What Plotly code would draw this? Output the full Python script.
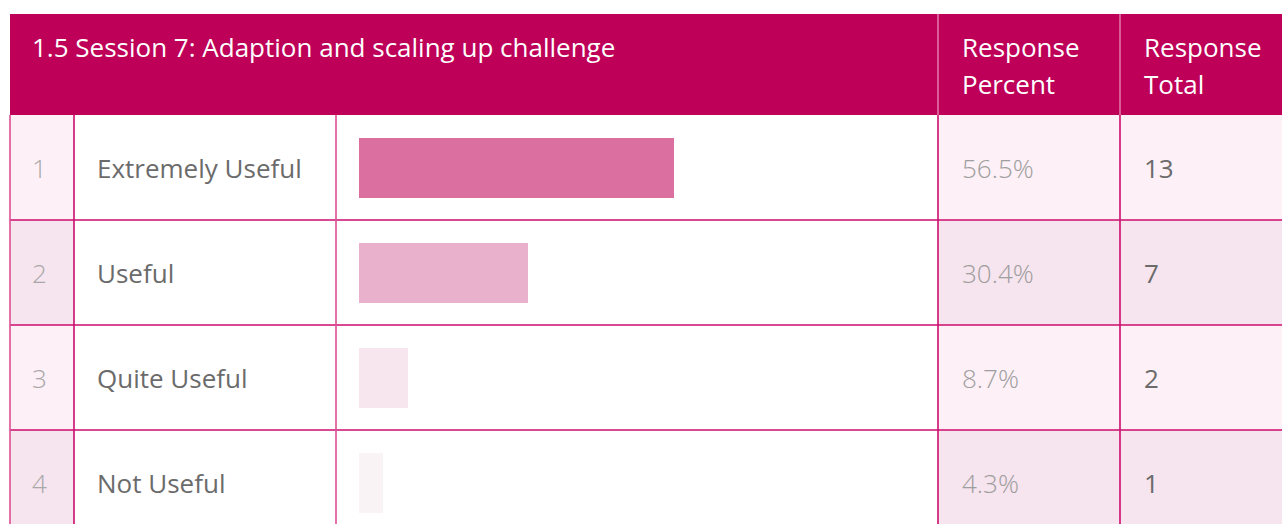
import plotly.graph_objects as go

TITLE = '1.5 Session 7: Adaption and scaling up challenge'
HEAD_PCT = ['Response', 'Percent']
HEAD_TOT = ['Response', 'Total']
ranks = ['1', '2', '3', '4']
labels = ['Extremely Useful', 'Useful', 'Quite Useful', 'Not Useful']
percent = [56.5, 30.4, 8.7, 4.3]
totals = [13, 7, 2, 1]

BAR_COLORS = ['#DA6FA0', '#EAB1CD', '#F7E6EE', '#FAF3F6']
MAGENTA = '#BE0058'
LINE = '#CC0C6C'
LINE_SOFT = '#DB4E92'
ODD_BG = '#FDF0F6'
EVEN_BG = '#F6E4EE'
FONT = 'Open Sans, Lato, sans-serif'
FS = 26

W, H = 1282, 524
# column edges in page pixels: rank | label | bar | percent | total
COLS = [10, 74, 336, 938, 1120, 1282]
ROW_H = 105
ROW0 = 167.5          # centre of first body row, px
HEAD_TOP = 14
BAR_LEFT = 359
PX_PER_PCT = 5.575


def ry(px):
    # page pixel -> row units
    return (px - ROW0) / ROW_H


rows = list(range(len(labels)))
fig = go.Figure()

fig.add_trace(go.Bar(
    x=percent, y=rows, orientation='h',
    marker=dict(color=BAR_COLORS, line=dict(width=0)),
    width=60 / ROW_H, xaxis='x2', yaxis='y',
    hoverinfo='skip', showlegend=False,
))

shapes = []
# header block
shapes.append(dict(type='rect', xref='x', yref='y', layer='below',
                   x0=COLS[0], x1=COLS[-1], y0=ry(HEAD_TOP), y1=-0.5,
                   fillcolor=MAGENTA, line=dict(width=0)))
for xc in COLS[3:5]:
    shapes.append(dict(type='line', xref='x', yref='y', x0=xc, x1=xc,
                       y0=ry(HEAD_TOP), y1=-0.5,
                       line=dict(color='#E47CAD', width=1.5)))

# body cell backgrounds
for r in rows:
    bg = ODD_BG if r % 2 == 0 else EVEN_BG
    for ci in (0, 3, 4):
        shapes.append(dict(type='rect', xref='x', yref='y', layer='below',
                           x0=COLS[ci], x1=COLS[ci + 1], y0=r - 0.5, y1=r + 0.5,
                           fillcolor=bg, line=dict(width=0)))

# grid lines
for r in rows[:-1]:
    shapes.append(dict(type='line', xref='x', yref='y', x0=COLS[0], x1=COLS[-1],
                       y0=r + 0.5, y1=r + 0.5, line=dict(color=LINE, width=1.6)))
for i, xc in enumerate(COLS[:-1]):
    shapes.append(dict(type='line', xref='x', yref='y', x0=xc, x1=xc,
                       y0=-0.5, y1=len(rows) - 0.5,
                       line=dict(color=LINE_SOFT if i in (0, 2) else LINE, width=1.6)))

ann = []


def txt(x, y, s, size=FS, color='#666666', weight=400):
    ann.append(dict(xref='x', yref='y', x=x, y=y, text=s, showarrow=False,
                    xanchor='left', yanchor='middle',
                    font=dict(family=FONT, size=size, color=color, weight=weight)))


txt(30, ry(46.5), TITLE, color='white')
for k, line in enumerate(HEAD_PCT):
    txt(COLS[3] + 22, ry(46.5 + 37 * k), line, color='white')
for k, line in enumerate(HEAD_TOT):
    txt(COLS[4] + 22, ry(46.5 + 37 * k), line, color='white')

for r in rows:
    txt(30, r, ranks[r], color='#A8A8A8', weight=300)
    txt(95, r, labels[r], color='#6B6B6B')
    txt(COLS[3] + 22, r, f'{percent[r]:.1f}%', color='#9E9E9E', weight=300)
    txt(COLS[4] + 22, r, str(totals[r]), color='#6B6B6B', weight=500)

fig.update_layout(
    width=W, height=H,
    margin=dict(l=0, r=0, t=0, b=0),
    paper_bgcolor='white', plot_bgcolor='rgba(0,0,0,0)',
    shapes=shapes, annotations=ann,
    xaxis=dict(range=[0, W], domain=[0, 1], visible=False, fixedrange=True),
    xaxis2=dict(range=[0, (COLS[3] - BAR_LEFT) / PX_PER_PCT],
                domain=[BAR_LEFT / W, COLS[3] / W], anchor='y',
                visible=False, fixedrange=True),
    yaxis=dict(range=[ry(H), ry(0)], domain=[0, 1], visible=False, fixedrange=True),
    bargap=0,
)

fig.write_html('out.html', config={'displayModeBar': False},
               post_script="document.body.style.margin='0';"
                           "document.body.style.overflow='hidden';")
